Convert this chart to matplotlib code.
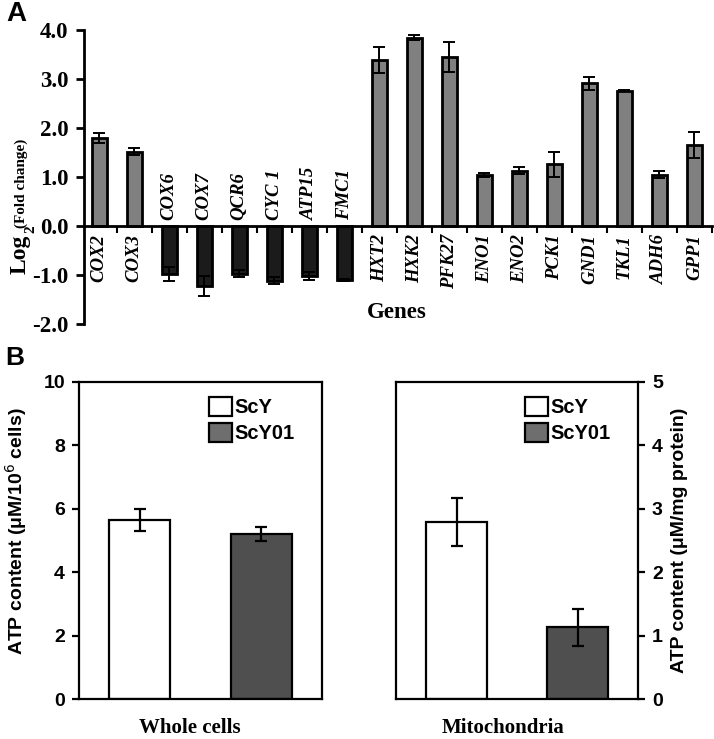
import matplotlib
matplotlib.use("Agg")
import matplotlib.pyplot as plt
from matplotlib.patches import Patch
import numpy as np

# ---------------- data ----------------
genes = ["COX2", "COX3", "COX6", "COX7", "QCR6", "CYC 1", "ATP15", "FMC1",
         "HXT2", "HXK2", "PFK27", "ENO1", "ENO2", "PCK1", "GND1", "TKL1", "ADH6", "GPP1"]
log2_fc = [1.80, 1.52, -0.98, -1.22, -0.97, -1.12, -1.02, -1.10,
           3.39, 3.84, 3.45, 1.04, 1.13, 1.26, 2.91, 2.76, 1.05, 1.65]
log2_err = [0.10, 0.07, 0.15, 0.20, 0.07, 0.07, 0.09, 0.02,
            0.27, 0.05, 0.30, 0.05, 0.07, 0.26, 0.13, 0.01, 0.07, 0.27]
a_yticks = [4.0, 3.0, 2.0, 1.0, 0.0, -1.0, -2.0]

strains = ["ScY", "ScY01"]
whole_vals = [5.65, 5.20]
whole_err = [0.35, 0.21]
mito_vals = [2.79, 1.13]
mito_err = [0.38, 0.29]
whole_yticks = [0, 2, 4, 6, 8, 10]
mito_yticks = [0, 1, 2, 3, 4, 5]

W, H = 714, 739
fig = plt.figure(figsize=(W / 100, H / 100), dpi=100)

def fx(px):
    return px / W

def fy(py):
    return 1 - py / H

serif = "Liberation Serif"
sans = "Liberation Sans"

# ---------------- Panel A ----------------
axA = fig.add_axes([fx(84), fy(324), fx(712) - fx(84), fy(30) - fy(324)])
x = np.arange(len(genes))
colsA = ["#808080" if v > 0 else "#1b1b1b" for v in log2_fc]
axA.bar(x, log2_fc, width=0.43, color=colsA, edgecolor="black", linewidth=2.0, zorder=2)
axA.errorbar(x, log2_fc, yerr=log2_err, fmt="none", ecolor="black",
             elinewidth=1.4, capsize=4, capthick=1.4, zorder=3)
axA.set_xlim(-0.43, 17.5)
axA.set_ylim(-2.0, 4.0)
axA.set_yticks(a_yticks)
axA.set_yticklabels([f"{t:.1f}" for t in a_yticks], fontfamily=serif,
                    fontweight="bold", fontsize=16.5)
axA.spines["top"].set_visible(False)
axA.spines["right"].set_visible(False)
axA.spines["bottom"].set_position(("data", 0))
axA.spines["left"].set_linewidth(2.0)
axA.spines["bottom"].set_linewidth(2.0)
axA.tick_params(axis="y", direction="out", length=6, width=2, pad=5)
axA.set_xticks(np.arange(0.5, 18, 1.0))
axA.set_xticklabels([])
axA.tick_params(axis="x", direction="out", length=5, width=1.5)

for i, (g, v) in enumerate(zip(genes, log2_fc)):
    if v >= 0:
        axA.annotate(g, xy=(i, 0), xytext=(0, -8), textcoords="offset pixels",
                     rotation=90, ha="center", va="top", fontfamily=serif,
                     fontstyle="italic", fontweight="bold", fontsize=13.5)
    else:
        axA.annotate(g, xy=(i, 0), xytext=(0, 6), textcoords="offset pixels",
                     rotation=90, ha="center", va="bottom", fontfamily=serif,
                     fontstyle="italic", fontweight="bold", fontsize=13.5)

fig.text(fx(397), fy(312), "Genes", ha="center", va="center", fontfamily=serif,
         fontweight="bold", fontsize=16.5)
fig.text(fx(20), fy(254), "Log", ha="center", va="center", rotation=90,
         fontfamily=serif, fontweight="bold", fontsize=17)
fig.text(fx(31), fy(229), "2", ha="center", va="center", rotation=90,
         fontfamily=serif, fontweight="bold", fontsize=11)
fig.text(fx(21), fy(183), "(Fold change)", ha="center", va="center", rotation=90,
         fontfamily=serif, fontweight="bold", fontsize=11)
fig.text(fx(16), fy(14), "A", ha="center", va="center", fontfamily=sans,
         fontweight="bold", fontsize=20)

# ---------------- Panel B ----------------
colsB = ["white", "#4f4f4f"]
handles = [Patch(facecolor=colsB[0], edgecolor="black", linewidth=1.6, label=strains[0]),
           Patch(facecolor="#6e6e6e", edgecolor="black", linewidth=1.6, label=strains[1])]

def panel_b(ax, vals, errs, yticks, right=False):
    xb = np.arange(len(vals))
    ax.bar(xb, vals, width=0.5, color=colsB, edgecolor="black", linewidth=1.6, zorder=2)
    ax.errorbar(xb, vals, yerr=errs, fmt="none", ecolor="black", elinewidth=1.6,
                capsize=4.5, capthick=1.6, zorder=3)
    ax.set_xlim(-0.5, 1.5)
    ax.set_ylim(yticks[0], yticks[-1])
    ax.set_yticks(yticks)
    ax.set_yticklabels([str(t) for t in yticks], fontfamily=sans, fontweight="bold",
                       fontsize=14)
    ax.set_xticks([])
    for s in ax.spines.values():
        s.set_linewidth(1.6)
    ax.tick_params(axis="y", direction="out", length=5, width=1.6, pad=5)
    if right:
        ax.yaxis.tick_right()
        ax.yaxis.set_label_position("right")
    ax.legend(handles=handles, loc="upper right", bbox_to_anchor=(0.935, 0.99),
              frameon=False, handlelength=1.15, handleheight=1.05, handletextpad=0.1,
              labelspacing=0.3, borderaxespad=0.2,
              prop={"family": sans, "weight": "bold", "size": 14.5})
    return ax

axB1 = fig.add_axes([fx(79), fy(699), fx(322) - fx(79), fy(381.7) - fy(699)])
panel_b(axB1, whole_vals, whole_err, whole_yticks)
axB1.set_ylabel("ATP content (μM/10$^{6}$ cells)", fontfamily=sans, fontweight="bold",
                fontsize=14)
axB1.yaxis.set_label_coords(-0.205, 0.53)

axB2 = fig.add_axes([fx(396), fy(699), fx(638) - fx(396), fy(381.7) - fy(699)])
panel_b(axB2, mito_vals, mito_err, mito_yticks, right=True)
axB2.set_ylabel("ATP content (μM/mg protein)", fontfamily=sans, fontweight="bold",
                fontsize=14, rotation=90, labelpad=6)

fig.text(fx(190), fy(728), "Whole cells", ha="center", va="center", fontfamily=serif,
         fontweight="bold", fontsize=15)
fig.text(fx(503), fy(728), "Mitochondria", ha="center", va="center", fontfamily=serif,
         fontweight="bold", fontsize=15)
fig.text(fx(15), fy(358), "B", ha="center", va="center", fontfamily=sans,
         fontweight="bold", fontsize=19)

fig.savefig("out.png", dpi=100, facecolor="white")
